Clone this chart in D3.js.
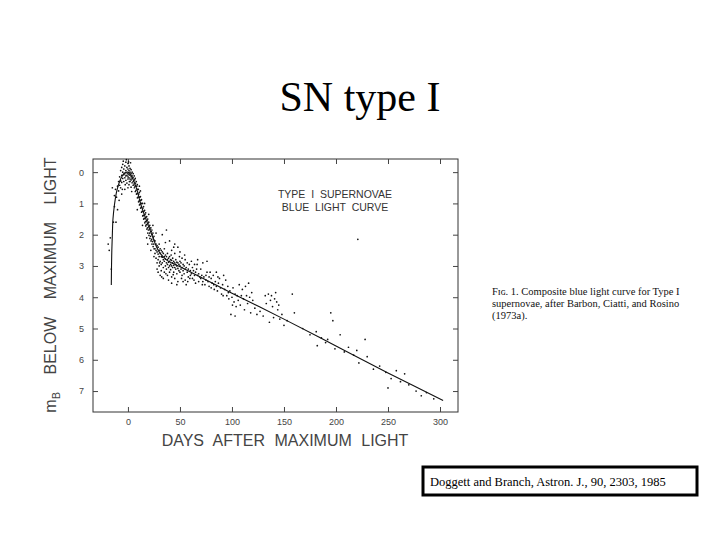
<!DOCTYPE html>
<html>
<head>
<meta charset="utf-8">
<script src="https://cdn.jsdelivr.net/npm/d3@7"></script>
<style>
  html, body { margin: 0; padding: 0; background: #fff; }
  svg { display: block; }
</style>
</head>
<body>
<div id="chart"></div>
<script>
// ---------- data ----------
const xTicks = [0, 50, 100, 150, 200, 250, 300];
const yTicks = [0, 1, 2, 3, 4, 5, 6, 7];

// template light curve (days after max, magnitudes below max)
const curveDay = [-16, -15.8, -15.5, -15, -14.4, -13, -11.2, -9.5, -8, -6, -3.2, 0, 3, 6.4, 9, 11.2, 14, 17.6, 20, 22.5, 25, 27.3, 30, 33.7, 38, 43.3, 49.7, 100, 150, 200, 250, 303];
const curveMag = [3.61, 3.0, 2.5, 2.0, 1.5, 1.05, 0.67, 0.45, 0.3, 0.15, 0.03, 0.0, 0.1, 0.35, 0.6, 0.89, 1.2, 1.53, 1.75, 1.96, 2.18, 2.38, 2.55, 2.7, 2.83, 2.92, 3.02, 3.87, 4.7, 5.56, 6.42, 7.3];

// individual observations [day, mag]
const obsPoints = [
  // around maximum
  [-19,2.3],[-18,2.5],[-17,2.1],[-16,3.1],[-14,1.6],[-13,1.1],[-12,0.55],[-11,0.8],[-10,0.45],[-10,1.2],
  [-9,0.3],[-9,0.6],[-8,0.15],[-8,0.42],[-7,-0.05],[-7,0.28],[-7,0.5],[-6,0.1],[-6,-0.15],[-6,0.33],
  [-5,0.0],[-5,0.2],[-5,-0.25],[-4,0.08],[-4,-0.1],[-4,0.3],[-3,-0.2],[-3,0.05],[-3,0.18],[-2,-0.32],
  [-2,-0.05],[-2,0.12],[-2,0.26],[-1,-0.15],[-1,0.02],[-1,0.1],[-1,0.35],[0,-0.28],[0,-0.1],[0,0.05],
  [0,0.15],[0,0.22],[1,-0.2],[1,-0.05],[1,0.08],[1,0.18],[1,0.4],[2,-0.12],[2,0.0],[2,0.1],
  [2,0.22],[2,0.3],[3,-0.08],[3,0.05],[3,0.15],[3,0.25],[3,0.48],[4,0.0],[4,0.12],[4,0.2],
  [4,0.34],[5,0.05],[5,0.18],[5,0.3],[5,0.42],[-15,0.5],[-13,0.75],[-6,0.7],[-3,0.55],[0,0.5],
  [-4.5,-0.35],[-1.5,-0.4],[2.5,-0.3],[-8.5,0.9],[-11.5,1.6],[-2.6,0.4],[0.6,-0.33],[3.6,0.62],[-5.4,0.55],[1.4,0.3],
  // fast decline
  [6,0.12],[6.4,0.25],[5.8,0.38],[6.2,0.5],[7,0.2],[7.3,0.35],[6.8,0.45],[7.1,0.62],[8,0.3],[8.4,0.45],
  [7.7,0.58],[8.2,0.7],[9,0.4],[9.3,0.55],[8.8,0.68],[9.1,0.82],[10,0.55],[10.4,0.7],[9.7,0.8],[10.2,0.95],
  [11,0.65],[11.3,0.8],[10.8,0.92],[11.1,1.05],[12,0.78],[12.4,0.9],[11.7,1.02],[12.2,1.15],[13,0.88],[13.3,1.0],
  [12.8,1.12],[13.1,1.28],[14,1.0],[14.4,1.15],[13.7,1.25],[14.2,1.4],[15,1.1],[15.3,1.25],[14.8,1.38],[15.1,1.5],
  [16,1.22],[16.4,1.35],[15.7,1.48],[16.2,1.62],[17,1.3],[17.3,1.45],[16.8,1.58],[17.1,1.72],[18,1.42],[18.4,1.55],
  [17.7,1.68],[18.2,1.82],[19,1.5],[19.3,1.65],[18.8,1.78],[19.1,1.95],[20,1.6],[20.4,1.75],[19.7,1.85],[20.2,2.02],
  [21,1.7],[21.3,1.82],[20.8,1.95],[21.1,2.12],[22,1.78],[22.4,1.9],[21.7,2.05],[22.2,2.2],[23,1.85],[23.3,2.0],
  [22.8,2.15],[23.1,2.3],[24,1.95],[24.4,2.1],[23.7,2.22],[24.2,2.38],[25,2.05],[25.3,2.18],[24.8,2.3],[25.1,2.45],
  [9,1.2],[12,0.6],[14,1.7],[16,1.0],[18,2.1],[20,1.35],[22,2.5],[11,0.45],[24,1.7],[19,2.3],
  // knee
  [26,2.2],[26,2.45],[26,2.6],[27,2.3],[27,2.5],[27,2.75],[28,2.35],[28,2.55],[28,2.9],[29,2.4],
  [29,2.62],[29,2.8],[30,2.3],[30,2.5],[30,2.7],[30,3.0],[31,2.45],[31,2.6],[31,2.85],[32,2.5],
  [32,2.7],[32,2.95],[32,3.15],[33,2.55],[33,2.72],[33,2.9],[34,2.6],[34,2.8],[34,3.05],[35,2.45],
  [35,2.7],[35,2.85],[35,3.2],[36,2.65],[36,2.78],[36,3.0],[37,1.85],[37,2.7],[37,2.9],[37,3.1],
  [38,2.6],[38,2.8],[38,2.95],[38,3.3],[39,2.75],[39,2.88],[39,3.05],[40,2.2],[40,2.7],[40,2.85],
  [40,3.0],[40,3.2],[41,2.8],[41,2.95],[41,3.12],[42,2.5],[42,2.82],[42,3.0],[42,3.35],[43,2.75],
  [43,2.9],[43,3.05],[44,2.85],[44,2.98],[44,3.2],[45,2.6],[45,2.9],[45,3.05],[45,3.4],[46,2.8],
  [46,2.95],[46,3.1],[47,2.88],[47,3.0],[47,3.25],[48,2.4],[48,2.9],[48,3.08],[49,2.95],[49,3.15],
  [50,2.55],[50,2.85],[50,3.0],[50,3.2],[51,2.9],[51,3.1],[52,2.75],[52,3.05],[52,3.3],[53,2.95],
  [53,3.15],[54,3.0],[54,3.25],[55,2.8],[55,3.1],[55,3.45],[56,3.05],[57,2.9],[57,3.2],[58,3.1],
  [58,3.35],[59,2.95],[60,3.15],[60,3.3],[33,2.0],[36,2.25],[44,2.4],[28,3.1],[31,3.3],[42,3.55],
  [47,3.6],[53,3.5],[25,2.7],[27,1.95],[34,3.4],[39,3.45],[48,3.5],[56,3.6],[29,3.2],[45,2.3],
  [30.5,2.9],[32.5,3.35],[36.5,3.25],[41.5,2.65],[43.5,3.28],[49.5,2.7],[51.5,3.4],[54.5,2.65],[57.5,3.5],[59.5,3.4],
  // slow decline
  [61,2.85],[61,3.25],[62,3.05],[62,3.4],[63,3.15],[64,2.95],[64,3.3],[65,3.2],[65,3.55],[66,3.1],
  [67,3.3],[67,2.8],[68,3.25],[68,3.5],[69,3.35],[70,3.1],[70,3.4],[71,3.3],[72,3.5],[72,2.9],
  [73,3.35],[74,3.6],[75,3.3],[75,3.45],[76,3.2],[77,3.5],[78,3.65],[78,3.35],[80,3.4],[80,3.7],
  [81,3.55],[82,3.3],[83,3.75],[84,3.5],[85,3.2],[85,3.65],[86,3.8],[87,3.55],[88,3.4],[89,3.7],
  [90,3.9],[91,3.6],[92,3.3],[93,3.75],[95,3.95],[96,3.65],[97,4.05],[98,3.8],[99,4.55],[100,4.0],
  [101,3.7],[102,4.15],[103,3.9],[104,4.3],[105,3.95],[106,4.1],[107,3.6],[108,4.25],[110,3.75],[111,4.05],
  [112,4.4],[113,3.65],[114,3.95],[115,4.2],[116,3.55],[118,4.5],[119,3.85],[120,4.1],[122,4.35],[124,4.55],
  [103,4.6],[94,3.45],[76,2.85],[63.5,3.45],[66.5,2.95],[71.5,3.6],[79,3.2],[82.5,3.6],[86.5,3.35],[91.5,3.95],
  [96.5,3.85],[100.5,4.25],[109,3.95],[117,4.0],
  [127,4.45],[130,4.6],[132,3.95],[133,4.2],[135,3.9],[136,4.8],[137,4.1],[138,3.95],[139,4.3],[140,4.65],
  [141,4.05],[142,3.85],[143,4.15],[144,4.4],[145,4.25],[146,4.7],[148,4.55],[150,4.9],[153,4.75],[158,3.9],
  [160,4.5],
  [168,5.0],[175,5.2],[181,5.1],[182,5.55],[186,5.3],[190,5.45],[192,5.35],[195,4.5],[197,4.75],[199,5.65],
  [204,5.2],[208,5.75],[212,5.6],[217,5.85],[220,5.7],[222,6.1],[228,5.35],[230,5.9],[236,6.3],[242,6.2],
  [248,6.4],[250,6.9],[253,6.6],[258,6.35],[262,6.7],[266,6.45],[270,6.8],[277,7.0],[282,7.15],[287,7.05],
  [294,7.25],[221,2.15]
];

const titleText = "SN type I";
const annotationLines = ["TYPE  I  SUPERNOVAE", "BLUE  LIGHT  CURVE"];
const captionLines = [
  "Fɪɢ. 1. Composite blue light curve for Type I",
  "supernovae, after Barbon, Ciatti, and Rosino",
  "(1973a)."
];
const citationText = "Doggett and Branch, Astron. J., 90, 2303, 1985";

// ---------- drawing ----------
const W = 720, H = 540;
const svg = d3.select("#chart").append("svg")
  .attr("width", W).attr("height", H)
  .style("background", "#fff");

const plot = { left: 93, right: 458, top: 159, bottom: 412 };

const x = d3.scaleLinear().domain([-33.6, 317.3]).range([plot.left, plot.right]);
const y = d3.scaleLinear().domain([-0.42, 7.67]).range([plot.top, plot.bottom]);

// title
svg.append("text")
  .attr("x", 360).attr("y", 111)
  .attr("text-anchor", "middle")
  .style("font-family", "'Liberation Serif', 'Times New Roman', serif")
  .style("font-size", "42px")
  .style("fill", "#000")
  .text(titleText);

// frame
svg.append("rect")
  .attr("x", plot.left).attr("y", plot.top)
  .attr("width", plot.right - plot.left).attr("height", plot.bottom - plot.top)
  .attr("fill", "none").attr("stroke", "#333").attr("stroke-width", 1);

const tickFont = "'Liberation Sans', Arial, sans-serif";

function styleAxis(g) {
  g.select(".domain").remove();
  g.selectAll(".tick line").attr("stroke", "#444").attr("stroke-width", 1);
  g.selectAll(".tick text").style("font-family", tickFont).style("font-size", "9px").style("fill", "#444");
}

svg.append("g").attr("transform", `translate(0,${plot.bottom})`)
  .call(d3.axisBottom(x).tickValues(xTicks).tickSize(-5).tickPadding(7).tickFormat(d3.format("d")))
  .call(styleAxis);
svg.append("g").attr("transform", `translate(0,${plot.top})`)
  .call(d3.axisTop(x).tickValues(xTicks).tickSize(-5).tickFormat(""))
  .call(styleAxis);
svg.append("g").attr("transform", `translate(${plot.left},0)`)
  .call(d3.axisLeft(y).tickValues(yTicks).tickSize(-5).tickPadding(9).tickFormat(d3.format("d")))
  .call(styleAxis);
svg.append("g").attr("transform", `translate(${plot.right},0)`)
  .call(d3.axisRight(y).tickValues(yTicks).tickSize(-5).tickFormat(""))
  .call(styleAxis);

// observations
svg.append("g").selectAll("circle")
  .data(obsPoints)
  .join("circle")
  .attr("cx", d => x(d[0]))
  .attr("cy", d => y(d[1]))
  .attr("r", 0.85)
  .attr("fill", "#111");

// template curve
const curveData = curveDay.map((d, i) => [d, curveMag[i]]);
svg.append("path")
  .datum(curveData)
  .attr("d", d3.line().x(d => x(d[0])).y(d => y(d[1])).curve(d3.curveCatmullRom.alpha(0.5)))
  .attr("fill", "none")
  .attr("stroke", "#111")
  .attr("stroke-width", 1.1);

// annotation inside plot
svg.append("g").selectAll("text")
  .data(annotationLines)
  .join("text")
  .attr("x", 335)
  .attr("y", (d, i) => 198 + i * 13)
  .attr("text-anchor", "middle")
  .style("white-space", "pre")
  .style("font-family", tickFont)
  .style("font-size", "10.5px")
  .style("fill", "#333")
  .text(d => d);

// x axis label
svg.append("text")
  .attr("x", 285).attr("y", 446)
  .attr("text-anchor", "middle")
  .style("font-family", tickFont)
  .style("font-size", "16px")
  .style("word-spacing", "5px")
  .style("fill", "#444")
  .text("DAYS AFTER MAXIMUM LIGHT");

// y axis label (rotated)
const yl = svg.append("text")
  .attr("transform", "translate(56,285) rotate(-90)")
  .attr("text-anchor", "middle")
  .style("font-family", tickFont)
  .style("font-size", "16px")
  .style("word-spacing", "13px")
  .style("fill", "#444");
yl.append("tspan").text("m");
yl.append("tspan").attr("dy", 4).style("font-size", "11px").text("B");
yl.append("tspan").attr("dy", -4).text(" BELOW MAXIMUM LIGHT");

// caption
svg.append("g").selectAll("text")
  .data(captionLines)
  .join("text")
  .attr("x", 492)
  .attr("y", (d, i) => 295 + i * 12)
  .style("font-family", "'Liberation Serif', 'Times New Roman', serif")
  .style("font-size", "10.5px")
  .style("fill", "#111")
  .text(d => d);

// citation box
svg.append("rect")
  .attr("x", 423).attr("y", 467)
  .attr("width", 274).attr("height", 28)
  .attr("fill", "#fff").attr("stroke", "#000").attr("stroke-width", 3);
svg.append("text")
  .attr("x", 430).attr("y", 486)
  .style("font-family", "'Liberation Serif', 'Times New Roman', serif")
  .style("font-size", "12.5px")
  .style("fill", "#000")
  .text(citationText);
</script>
</body>
</html>
